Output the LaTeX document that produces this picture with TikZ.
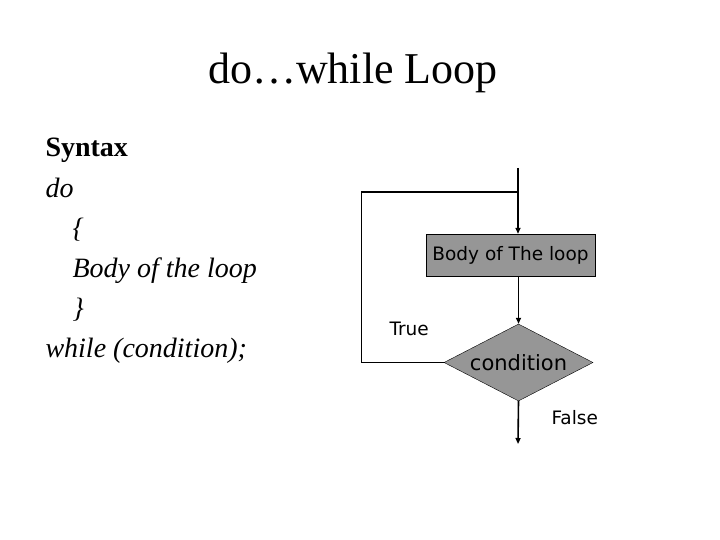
\documentclass[tikz,border=0pt]{standalone}
\usepackage{fontspec}
\setmainfont{Liberation Serif}
\newfontfamily\flowfont{DejaVu Sans}
\usepackage{tikz}
\usetikzlibrary{shapes.geometric, positioning, arrows.meta, calc}

\definecolor{boxgray}{RGB}{150,150,150}

\begin{document}
\begin{tikzpicture}[
        x=1pt, y=-1pt,
        % Define styles
        title/.style={anchor=base, font=\fontsize{44}{50}\selectfont},
        code/.style={anchor=base west, font=\fontsize{28}{32}\selectfont\itshape},
        process/.style={draw, thin, fill=boxgray, minimum width=169pt, minimum height=42pt, inner sep=0pt, font=\flowfont\fontsize{18.5}{22}\selectfont},
        decision/.style={diamond, aspect=1.94, draw, thin, fill=boxgray, minimum width=149pt, minimum height=77pt, inner sep=0pt, font=\flowfont\fontsize{21}{24}\selectfont},
        flowlabel/.style={anchor=base west, font=\flowfont\fontsize{18.5}{22}\selectfont},
        arrow/.style={-{Triangle[length=6pt, width=5pt]}, line width=1.6pt},
        backline/.style={line width=1pt}
    ]

    \useasboundingbox (0,0) rectangle (720,540);

    % 1. Title
    \node[title] (head) at (353,84) {do\ldots while Loop};

    % 2. Syntax text
    \node[code, font=\fontsize{28}{32}\selectfont\bfseries] (syn) at (42,157) {Syntax};
    \node[code] (kwdo) at (42,197) {do};
    \node[code] (open) at (69,237) {\{};
    \node[code] (stmt) at (69,277) {Body of the loop};
    \node[code] (close) at (69,317) {\}};
    \node[code] (kwwhile) at (42,357) {while (condition);};

    % 3. Flowchart
    \coordinate (start) at (518,168);
    \coordinate (join) at (518,192);
    \coordinate (corner) at (361,192);
    \coordinate (stop) at (518,444);

    \node[process] (body) at (510.5,255) {Body of The loop};
    \node[decision] (cond) at (518.5,362.5) {condition};

    \node[flowlabel] (true) at (386,335) {True};
    \node[flowlabel] (false) at (548,424) {False};

    % Arrows
    \draw[arrow] (start) -- (body.north -| start);
    \draw[arrow] (body.south -| cond) -- (cond.north);
    \draw[arrow] (cond.south) -- (stop);

    % Loop back line
    \draw[backline] (cond.west) -| (corner);
    \draw[line width=1.6pt] (corner) -- (join);

\end{tikzpicture}
\end{document}
